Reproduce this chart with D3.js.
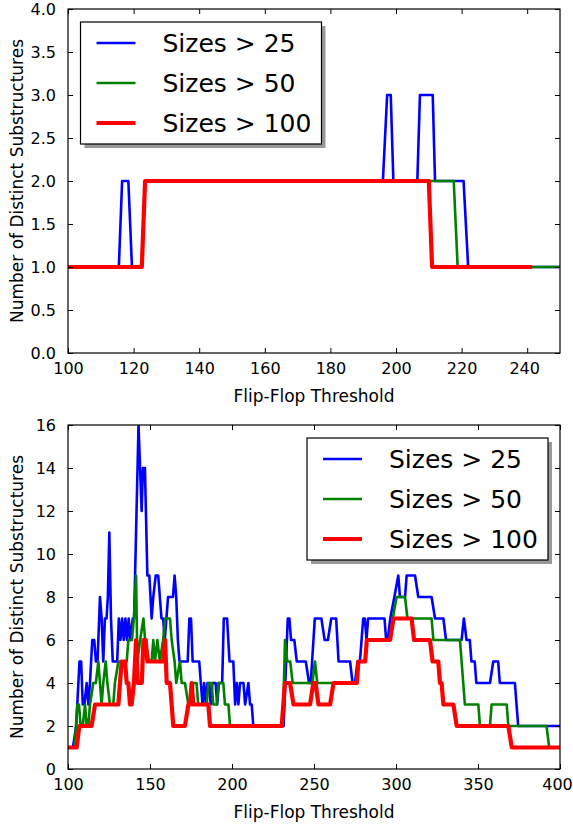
<!DOCTYPE html>
<html>
<head>
<meta charset="utf-8">
<script src="https://cdnjs.cloudflare.com/ajax/libs/d3/7.8.5/d3.min.js"></script>
<style>
    body { margin: 0; background: white; }
    svg { display: block; font-family: 'DejaVu Sans', sans-serif; }
</style>
</head>
<body>
<svg id="chart"></svg>
<script>
// legend labels, same order as the series arrays below
var seriesNames = ['Sizes > 25', 'Sizes > 50', 'Sizes > 100'];

// top panel: [threshold, count] vertices
var topXTicks = [100, 120, 140, 160, 180, 200, 220, 240];
var topYTicks = [0, 0.5, 1, 1.5, 2, 2.5, 3, 3.5, 4];
var topSizes25 = [[100,1],[115.5,1],[116.5,2],[118.4,2],[119.5,1],[122.5,1],[123.5,2],[196,2],[197.3,3],[198.4,3],[199.2,2],
    [206.5,2],[207.3,3],[211.2,3],[211.9,2],[220.6,2],[222,1],[250,1]];
var topSizes50 = [[100,1],[122.5,1],[123.5,2],[217.6,2],[218.8,1],[250,1]];
var topSizes100 = [[100,1],[122.5,1],[123.5,2],[210,2],[211,1],[241.5,1]];

// bottom panel
var bottomXTicks = [100, 150, 200, 250, 300, 350, 400];
var bottomYTicks = [0, 2, 4, 6, 8, 10, 12, 14, 16];
var bottomSizes25 = [[100,1],[103,1],[105,2],[107,5],[108,5],[109,3],[110,3],[111.4,4],[112.4,3],[113.4,4],[114.8,6],[116,6],
    [117,5],[118,5],[119.5,8],[120.5,7],[121.5,5],[122.5,7],[123.5,7],[124.3,8],[125.2,11],[126.2,7],[127.3,5],[130,5],
    [131,7],[132,6],[133,7],[134,6],[135,7],[136,6],[137,7],[138,6],[139.5,7],[140.3,7],[143,16],[144.9,12],[145.7,14],
    [146.9,14],[147.5,12],[148.4,9],[149.6,9],[151,7],[152,8],[153.5,9],[155,9],[156,8],[157,7],[158,7],[159,6],[160,7],
    [161,8],[164,8],[165,9],[166,8],[167,6],[168,5],[173,5],[174,7],[175,7],[176,5],[180,5],[181,4],[182,3],[183,4],
    [184,3],[185,4],[186,4],[187,3],[188,4],[190,4],[191,3],[192,4],[194,4],[195,7],[197,7],[198.5,5],[200.8,5],
    [201.9,3],[202.9,4],[203.9,3],[204.9,4],[207,4],[208,3],[210,4],[211,3],[212,3],[213,2],[231.5,2],[234,7],[235,7],
    [236,6],[238,6],[239.5,5],[245,5],[247,4],[248,4],[250.5,7],[254.5,7],[256.5,6],[258.5,6],[260.5,7],[263.5,7],
    [265,5],[272,5],[273.5,4],[275,4],[276.5,5],[278,5],[280,7],[281,7],[282,6],[283,7],[293,7],[294,6],[295,6],
    [296.5,7],[299,8],[301.4,9],[302.4,8],[305.5,8],[306.5,9],[311.6,9],[313.6,8],[321.7,8],[323.8,7],[328.9,7],
    [330.5,6],[340,6],[341.4,7],[343,6],[345,6],[346,5],[348,5],[349,4],[357.3,4],[359.3,5],[362.3,5],[363.3,4],
    [372.5,4],[374.5,2],[400,2]];
var bottomSizes50 = [[100,1],[104,1],[105.7,3],[106.7,3],[107.7,2],[109,2],[110.4,3],[111.4,2],[112.4,2],[113.4,3],
    [115.4,4],[117,4],[118.5,5],[119.5,4],[120.5,3],[121.5,4],[123,5],[124,4],[125.6,3],[127.6,3],[128.6,4],[130.7,5],
    [135.8,5],[136.8,6],[139,6],[140.2,7],[141.5,9],[142.3,5],[144,6],[146,7],[147,6],[149.5,5],[151,5],[152,6],
    [153,5],[154.5,6],[156,5],[158,6],[159.2,7],[162.2,7],[163.2,6],[165,5],[166,4],[168.3,5],[169.3,4],[171.3,4],
    [173.4,3],[175.4,3],[176.4,4],[178.4,4],[179.4,3],[184.6,3],[185.6,4],[187.6,4],[188.6,3],[190.7,3],[191.7,4],
    [194.7,4],[195.7,3],[197.8,3],[198.8,2],[231,2],[232.3,6],[233.7,5],[235.5,5],[237,4],[249,4],[250.6,5],[252,4],
    [276,4],[277.1,5],[281.2,5],[282.2,6],[296.4,6],[298,7],[300.4,8],[305.5,8],[307,7],[321.7,7],[322.8,6],[339,6],
    [342,3],[350.2,3],[351.2,2],[357.3,2],[358.3,3],[367.5,3],[368.5,2],[391.8,2],[393.4,1],[400,1]];
var bottomSizes100 = [[100,1],[105.3,1],[106.9,2],[114.4,2],[116.5,3],[130.7,3],[132.7,5],[134.8,5],[135.8,4],[136.8,4],
    [137.8,3],[138.8,3],[140.2,4],[141.5,6],[142.5,4],[145,4],[146,6],[147.4,6],[148.4,5],[158.1,5],[159.2,6],[160.2,4],
    [162.2,4],[164.2,2],[171.3,2],[173.4,3],[174.4,3],[175.4,4],[176.4,3],[185.6,3],[186.6,2],[230.3,2],[232.3,4],
    [235.4,4],[237.5,3],[247.6,3],[249.6,4],[251,4],[252.7,3],[259.8,3],[261.9,4],[276.1,4],[277.1,5],[281.2,5],
    [282.2,6],[296.4,6],[298.5,7],[309.5,7],[311,6],[320.7,6],[322.3,5],[325.8,5],[326.8,4],[327.8,4],[328.9,3],
    [335,3],[337,2],[368.5,2],[370.6,1],[400,1]];

// line look per series
var seriesColors = ['#0000ff', '#008000', '#ff0000'];
var seriesWidths = [2.6, 2.6, 4.2];

var svgWidth = 573;
var svgHeight = 827;
var svg = d3.select('svg#chart')
    .attr('width', svgWidth)
    .attr('height', svgHeight);

class ThresholdPanel {
    constructor(box, xDomain, yDomain, xTicks, yTicks, yFormat, series, legendBox){
        this.box = box;
        this.xTicks = xTicks;
        this.yTicks = yTicks;
        this.yFormat = yFormat;
        this.series = series;
        this.legendBox = legendBox;
        this.x = d3.scaleLinear().domain(xDomain).range([box.left, box.right]);
        this.y = d3.scaleLinear().domain(yDomain).range([box.bottom, box.top]);
        this.tickLength = 5;
    }

    Draw(){
        var self = this;
        var b = this.box;
        var clipId = 'clip' + Math.round(b.top);

        svg.append('clipPath').attr('id', clipId)
            .append('rect')
            .attr('x', b.left).attr('y', b.top)
            .attr('width', b.right - b.left).attr('height', b.bottom - b.top);

        var line = d3.line()
            .x(function(d){ return self.x(d[0]); })
            .y(function(d){ return self.y(d[1]); });

        var lines = svg.append('g').attr('clip-path', 'url(#' + clipId + ')');
        this.series.forEach(function(points, i){
            lines.append('path')
                .datum(points)
                .attr('d', line)
                .style('fill', 'none')
                .style('stroke', seriesColors[i])
                .style('stroke-width', seriesWidths[i])
                .style('stroke-linejoin', 'round');
        });

        this.DrawAxes();
        this.DrawLegend();
    }

    DrawAxes(){
        var b = this.box;
        var t = this.tickLength;

        // bottom and left axes with inward ticks
        var xAxis = svg.append('g')
            .attr('transform', 'translate(0,' + b.bottom + ')')
            .call(d3.axisBottom(this.x).tickValues(this.xTicks).tickSizeInner(-t).tickSizeOuter(0).tickPadding(10));
        var yAxis = svg.append('g')
            .attr('transform', 'translate(' + b.left + ',0)')
            .call(d3.axisLeft(this.y).tickValues(this.yTicks).tickFormat(this.yFormat).tickSizeInner(-t).tickSizeOuter(0).tickPadding(12));
        // mirrored ticks on top and right
        var xTop = svg.append('g')
            .attr('transform', 'translate(0,' + b.top + ')')
            .call(d3.axisTop(this.x).tickValues(this.xTicks).tickSizeInner(-t).tickSizeOuter(0).tickFormat(''));
        var yRight = svg.append('g')
            .attr('transform', 'translate(' + b.right + ',0)')
            .call(d3.axisRight(this.y).tickValues(this.yTicks).tickSizeInner(-t).tickSizeOuter(0).tickFormat(''));

        [xAxis, yAxis, xTop, yRight].forEach(function(g){
            g.select('.domain').remove();
            g.selectAll('line').style('stroke', '#000').style('stroke-width', 1);
            g.selectAll('text')
                .style('font-family', "'DejaVu Sans', sans-serif")
                .style('font-size', '16px')
                .style('fill', '#000');
        });

        // keep the last x label inside the page
        xAxis.selectAll('.tick:last-of-type text').attr('dx', -3);

        svg.append('rect')
            .attr('x', b.left).attr('y', b.top)
            .attr('width', b.right - b.left).attr('height', b.bottom - b.top)
            .style('fill', 'none')
            .style('stroke', '#000')
            .style('stroke-width', 1.2);

        svg.append('text')
            .attr('x', (b.left + b.right) / 2)
            .attr('y', b.bottom + 49)
            .attr('text-anchor', 'middle')
            .style('font-size', '17px')
            .text('Flip-Flop Threshold');

        svg.append('text')
            .attr('transform', 'translate(23,' + ((b.top + b.bottom) / 2) + ') rotate(-90)')
            .attr('text-anchor', 'middle')
            .style('font-size', '17px')
            .text('Number of Distinct Substructures');
    }

    DrawLegend(){
        var lb = this.legendBox;
        // shadow first, then the box over it
        svg.append('rect')
            .attr('x', lb.x + 4).attr('y', lb.y + 4)
            .attr('width', lb.w).attr('height', lb.h)
            .style('fill', '#555')
            .style('fill-opacity', 0.6);
        svg.append('rect')
            .attr('x', lb.x).attr('y', lb.y)
            .attr('width', lb.w).attr('height', lb.h)
            .style('fill', 'white')
            .style('stroke', '#000')
            .style('stroke-width', 1.2);

        var rowGap = (lb.h - 42) / 2;
        seriesNames.forEach(function(name, i){
            var cy = lb.y + 21 + i * rowGap;
            svg.append('line')
                .attr('x1', lb.x + 16).attr('x2', lb.x + 55)
                .attr('y1', cy).attr('y2', cy)
                .style('stroke', seriesColors[i])
                .style('stroke-width', seriesWidths[i]);
            svg.append('text')
                .attr('x', lb.x + 82)
                .attr('y', cy)
                .attr('dominant-baseline', 'central')
                .style('font-size', '25px')
                .text(name);
        });
    }
}

var topPanel = new ThresholdPanel(
    {left: 68, right: 560, top: 9, bottom: 353},
    [100, 250], [0, 4], topXTicks, topYTicks, d3.format('.1f'),
    [topSizes25, topSizes50, topSizes100],
    {x: 80.5, y: 22, w: 241, h: 122});
topPanel.Draw();

var bottomPanel = new ThresholdPanel(
    {left: 68, right: 560, top: 425, bottom: 769},
    [100, 400], [0, 16], bottomXTicks, bottomYTicks, d3.format('d'),
    [bottomSizes25, bottomSizes50, bottomSizes100],
    {x: 307, y: 438, w: 241, h: 122});
bottomPanel.Draw();
</script>
</body>
</html>
